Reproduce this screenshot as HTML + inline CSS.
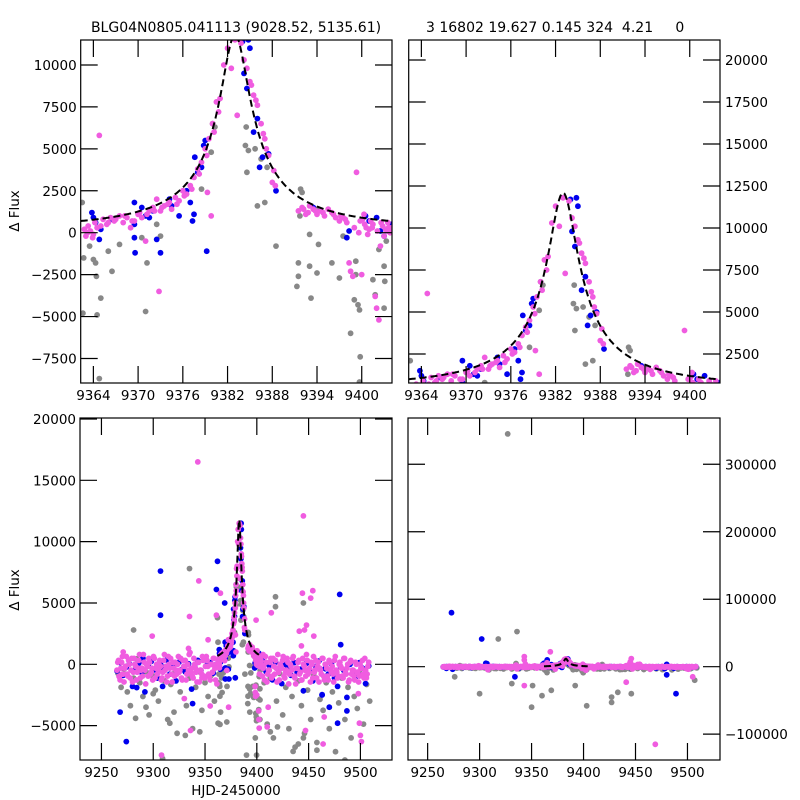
<!DOCTYPE html>
<html><head><meta charset="utf-8"><style>
body{margin:0;background:#fff}
svg{display:block;font-family:"DejaVu Sans","Liberation Sans",sans-serif}
</style></head><body>
<svg id="fig" width="800" height="800" viewBox="0 0 800 800"></svg>
<script>
// ---- data (flux values) ----
const tlPink = [[9362.8,200],[9363,-200],[9363.3,400],[9363.6,100],[9363.9,-300],[9364.2,600],[9364.5,300],[9364.8,5800],[9365.3,800],[9365.8,500],[9366.3,900],[9366.8,700],[9367.5,1000],[9368,600],[9368.5,900],[9369,300],[9369.5,700],[9370,1100],[9370.5,900],[9371,-500],[9371.5,1300],[9372,1500],[9372.5,2000],[9372.8,-3500],[9373,1300],[9373.5,1600],[9374,1700],[9374.5,1400],[9375,2100],[9375.5,1900],[9376,2500],[9376.5,2300],[9377,2800],[9377.5,3300],[9378,3800],[9378.5,4200],[9379,5000],[9379.3,2400],[9379.5,5600],[9379.8,1000],[9380,6500],[9380.5,7800],[9381,8000],[9381.5,10000],[9382,11000],[9382.5,9800],[9383,11500],[9383.3,7000],[9383.8,11300],[9384.2,10300],[9384.6,9800],[9385,9000],[9385.5,8200],[9386,7600],[9386.5,6500],[9387,5600],[9387.5,4600],[9388,3000],[9388.2,3700],[9388.4,2800],[9391.5,1300],[9392,1500],[9392.5,1100],[9393,1600],[9393.5,1400],[9394,1100],[9394.5,1300],[9395,1000],[9395.5,1400],[9396,1200],[9396.5,900],[9397,700],[9397.2,1000],[9397.5,900],[9398,600],[9398.3,-1800],[9398.5,-2300],[9398.8,-2600],[9399,300],[9399.3,3600],[9399.6,0],[9399.8,700],[9400,-2500],[9400.1,800],[9400.3,1100],[9400.6,300],[9400.8,-100],[9401,200],[9401.2,700],[9401.5,500],[9401.8,-3800],[9402,-4500],[9402.1,100],[9402.3,-5200],[9402.5,-800],[9402.8,400],[9403,-200],[9403.2,200],[9403.5,600],[9403.6,300],[9403.8,0],[9404,300],[9363.2,0],[9364,-100],[9365,400],[9366,600],[9367,800],[9368.2,1000],[9369.2,700],[9370.2,1200],[9371.2,1100],[9372.2,1300],[9373.2,1500],[9374.2,1800],[9375.2,1700],[9376.2,2200],[9377.2,2600],[9378.2,3500],[9379.2,4600],[9380.2,6000],[9380.8,7200],[9385.2,8800],[9385.8,7900],[9386.8,5900],[9387.2,5000],[9392.2,1400],[9392.8,1200],[9393.8,1300],[9394.8,1200],[9396.2,1100],[9397.8,800],[9400.4,500],[9401.4,300],[9402.6,600],[9403.4,100]];
const tlGray = [[9362.5,1800],[9362.7,-1500],[9362.6,-4800],[9363.5,-800],[9364,-1600],[9364.3,-1800],[9364.4,-2600],[9364.5,-4900],[9364.8,-8700],[9365,-3900],[9366,-1100],[9366.5,-2300],[9367.5,-700],[9370.5,-300],[9371,-4700],[9371.2,-1800],[9372.5,500],[9373,-200],[9378.5,2600],[9379.8,4800],[9380,6500],[9380.3,6300],[9384.5,6300],[9384.4,5200],[9384.8,4900],[9384.6,3600],[9385.7,5000],[9386.5,4400],[9387,1800],[9387.3,3900],[9386,1600],[9388.5,-800],[9391.5,-1800],[9391.5,-2600],[9391.3,-3200],[9391.7,1000],[9391.8,2600],[9392,2400],[9393,-100],[9393,-2000],[9393.2,-3900],[9394,-2400],[9394.2,-700],[9394,1400],[9396,-1800],[9397,-2700],[9397.5,-200],[9398.5,-6000],[9399.2,-2500],[9399.2,-1700],[9399,-4000],[9399.5,-4300],[9399.7,-4600],[9399.8,-7400],[9399.7,-8900],[9401.5,-2800],[9401.8,-3700],[9402.3,-1000],[9403,-2000],[9403.1,-2900],[9403,-4500],[9403.3,-500]];
const tlBlue = [[9363.8,1200],[9364,900],[9364.3,600],[9364.8,-400],[9365,200],[9366.5,800],[9369.5,1800],[9369.5,500],[9369.5,-300],[9369.6,-1200],[9370.5,1500],[9371,1000],[9371.5,900],[9372,1300],[9372.5,-400],[9373,-1200],[9374.2,2000],[9374.5,1600],[9375.5,1000],[9376.5,2500],[9377,1800],[9377.3,700],[9377.5,1100],[9377.6,4500],[9378,3600],[9378.5,3900],[9378.8,5200],[9379,5500],[9379.2,-1100],[9384,11400],[9384.8,11500],[9385,11000],[9384.2,9500],[9384.6,8600],[9385.5,6000],[9386,6800],[9386.3,3900],[9386.7,4500],[9387.5,4700],[9388.5,2500],[9393.5,1500],[9398,-300],[9398.3,100],[9400.5,1000],[9401,700],[9402,900],[9402.5,100],[9403,-200],[9403.5,200],[9404,500]];
const trOffset = 300;
// band values (hundreds of flux) on regular epoch grids
const bandPink = [-3,2,-8,1,-5,-2,4,-6,0,-3,-9,3,-1,-4,2,-7,-2,5,-3,0,-6,1,-4,-8,3,-2,-5,0,-1,-7,2,-3,-9,4,-2,-5,1,-6,-3,0,-4,3,-8,-1,2,-5,-3,6,-2,-7,0,-4,1,-9,-3,4,-6,-1,2,-5,-8,0,3,-2,0,0,0,0,0,0,0,0,0,0,0,0,0,0,0,0,0,0,0,0,0,0,0,0,0,0,0,0,-4,5,-2,-8,1,-5,-3,3,-6,-1,2,-9,-4,0,-2,4,-7,-3,1,-5,-1,3,-6,-10,-2,2,-4,-8,0,-3,5,-5,-2,1,-7,-4,2,-1,-9,-3,3,-6,0,-2,-8,1,-4,-5,2,-3,-7,0,-1,-6,3,-4,-2,-9,1,-5,-3,-8,0,-4,-6,-2,2,-7,-3,-5,1];
const bandPink2 = [1,-6,-2,4,-9,-1,-5,2,-7,3,-4,0,-8,-2,5,-3,-6,1,-10,-1,3,-5,-2,4,-7,0,-3,2,-8,-4,5,-1,-6,0,3,-9,-2,1,-5,4,-3,-7,2,-1,-8,0,5,-4,-6,3,-2,-9,1,-3,-5,2,-7,4,-1,-6,0,-4,3,-8,0,0,0,0,0,0,0,0,0,0,0,0,0,0,0,0,0,0,0,0,0,0,0,0,0,0,0,0,2,-6,-1,4,-9,-3,1,-7,3,-5,-2,5,-8,-1,2,-6,-4,3,-10,0,-3,4,-7,-2,1,-5,-8,3,-1,-6,2,-4,-9,0,4,-3,-7,1,-2,-5,3,-8,0,-6,2,-3,-1,-9,4,-4,-6,1,-2,-7,3,-5,0,-8,2,-3,-6,1,-4,-9,0,-2,-5,3,-7,-1];
const bandBlue = [-12,3,-20,-5,1,-40,-8,2,-15,-50,-3,5,-10,-25,0,-6,8,-18,-2,-30,4,-9,-14,1,-45,-4,7,-11,-22,-1,3,-16,0,0,0,0,0,0,0,0,0,0,0,0,0,0,-7,5,-13,-2,-28,4,-10,-35,0,-6,-20,3,-15,-9,-48,2,-12,-30,-4,6,-55,-8,-18,1,-25,-40,-5,-11,-60,0,-14,-22,3,-7,-35,-3];
const bandGray = [-10,-25,-5,-30,-45,-15,6,-20,-35,-8,-55,-12,-28,-40,-3,-18,-60,-22,-10,-75,-30,-5,-45,-15,-70,-25,-8,-50,-20,-35,-12,-40,0,0,0,0,0,0,0,0,0,0,0,0,0,0,-30,-20,-65,-15,-80,-40,-10,-55,-25,-70,-35,-90,-18,-45,-75,-28,-60,-12,-85,-38,-50,-20,-70,-30,-95,-42,-15,-60,-25,-80,-35,-48,-10,-65,-22,-40];
const pinkUnit = 160, blueUnit = 45, grayUnit = 75;
const pinkOut = [[9270,-800],[9271,1000],[9299,2300],[9308,-7400],[9334,1300],[9335,3900],[9336,-5400],[9343,16500],[9344,6800],[9347,-1100],[9353,2000],[9355,-3400],[9361,4000],[9361.5,-1600],[9406,800],[9410,-5100],[9411,-3500],[9414,4200],[9441,2700],[9443,1500],[9444,5800],[9445,12100],[9446,2800],[9447,-5400],[9448,3200],[9452,5400],[9454,6000],[9455,2300],[9464,-6500],[9465,-4300],[9498,-2400],[9499,-4800],[9500,-5800],[9501,-6300],[9267,-1000],[9330,-2800]];
const blueOut = [[9307,7600],[9307,4000],[9362,8400],[9361,6100],[9369,5000],[9480,5700],[9481,1600],[9274,-6300],[9268,-3900],[9284,-1900],[9309,-1800],[9338,-3200],[9470,-3500],[9478,-4800],[9487,-3800],[9463,-2500],[9500,-900],[9290,500]];
const grayOut = [[9335,7800],[9362,3800],[9281,2800],[9418,5500],[9418,4700],[9445,5000],[9345,-5500],[9309,-7700],[9283,-4400],[9293,-3500],[9316,-4800],[9331,-5800],[9390,-7400],[9420,-5100],[9440,-6500],[9445,-6000],[9458,-7000],[9485,-7800],[9435,-7100],[9413,-5500],[9300,-2400],[9320,-3900]];
const brScale = 0.6;
const brPink = [[9343,15000],[9368,22000],[9343,-28000],[9441,-23000],[9446,12000],[9469,-115000],[9505,-15000]];
const brBlue = [[9273,80000],[9302,41000],[9365,10000],[9334,-15000],[9489,-40000],[9480,-12000],[9306,5000]];
const brGray = [[9327,345000],[9318,41000],[9336,52000],[9300,-40000],[9350,-60000],[9331,-25000],[9351,-28000],[9360,-43000],[9369,-35000],[9392,-28000],[9403,-58000],[9427,-45000],[9427,-53000],[9433,-38000],[9446,-40000],[9507,-20000],[9276,-15000]];
const model = {t0:9383, u0:0.1, tE:20, fs:1272, base:300};
const ticksTopX = [9364,9370,9376,9382,9388,9394,9400];
const ticksBotX = [9250,9300,9350,9400,9450,9500];
const ticksTL = [-7500,-5000,-2500,0,2500,5000,7500,10000];
const ticksTR = [2500,5000,7500,10000,12500,15000,17500,20000];
const ticksBL = [-5000,0,5000,10000,15000,20000];
const ticksBR = [-100000,0,100000,200000,300000];

const NS="http://www.w3.org/2000/svg";
const svg=document.getElementById('fig');
function mk(tag,attrs,parent){const e=document.createElementNS(NS,tag);for(const k in attrs)e.setAttribute(k,attrs[k]);(parent||svg).appendChild(e);return e;}
function mag(t){const u=Math.sqrt(model.u0*model.u0+Math.pow((t-model.t0)/model.tE,2));return (u*u+2)/(u*Math.sqrt(u*u+4));}
function modelFlux(t,off){return model.base+off+model.fs*(mag(t)-1);}

const P={
 tl:{x0:80.7,x1:392,y0:40,y1:383,xmin:9362.3,xmax:9404.06,ymin:-8961,ymax:11489,yt:ticksTL,xt:ticksTopX,side:'left'},
 tr:{x0:408.7,x1:720,y0:40,y1:383,xmin:9362.3,xmax:9404.06,ymin:774,ymax:21190,yt:ticksTR,xt:ticksTopX,side:'right'},
 bl:{x0:80,x1:392,y0:418,y1:760,xmin:9229.3,xmax:9530.5,ymin:-7802,ymax:20081,yt:ticksBL,xt:ticksBotX,side:'left'},
 br:{x0:408,x1:720,y0:418,y1:760,xmin:9231.1,xmax:9531.3,ymin:-138300,ymax:368600,yt:ticksBR,xt:ticksBotX,side:'right'}
};
function sx(p,v){return p.x0+(v-p.xmin)/(p.xmax-p.xmin)*(p.x1-p.x0);}
function sy(p,v){return p.y1-(v-p.ymin)/(p.ymax-p.ymin)*(p.y1-p.y0);}

const defs=mk('defs',{});
for(const k in P){const p=P[k];const cp=mk('clipPath',{id:'clip-'+k},defs);mk('rect',{x:p.x0,y:p.y0,width:p.x1-p.x0,height:p.y1-p.y0},cp);}

const COL={gray:'#888888',blue:'#0000ee',pink:'#f05ce0'};
function dots(p,g,pts,color,off,scale,name){
 const grp=mk('g',{fill:color},g);
 
 
 pts.forEach(d=>{mk('circle',{cx:sx(p,d[0]).toFixed(1),cy:sy(p,(d[1]+off)*scale).toFixed(1),r:2.9},grp);});
}
function bandPts(vals,start,step,unit){const out=[];vals.forEach((v,i)=>{const t=start+i*step;if(t>9361&&t<9405)return;out.push([t,v*unit]);});return out;}

function drawPanel(k){
 const p=P[k];
 const g=mk('g',{'clip-path':'url(#clip-'+k+')'});
 
 
 const top=(k==='tl'||k==='tr');
 const off=(k==='tr')?trOffset:0;
 if(top){
  dots(p,g,tlGray,COL.gray,off,1,'gray-points');
  dots(p,g,tlBlue,COL.blue,off,1,'blue-points');
  dots(p,g,tlPink,COL.pink,off,1,'pink-points');
 } else {
  const sc=(k==='br')?brScale:1;
  dots(p,g,bandPts(bandGray,9266,3,grayUnit),COL.gray,0,sc,'gray-band');
  dots(p,g,grayOut,COL.gray,0,sc,'gray-outliers');
  dots(p,g,tlGray,COL.gray,0,1,'gray-peak-points');
  if(k==='br') dots(p,g,brGray,COL.gray,0,1,'gray-outliers-br');
  dots(p,g,bandPts(bandBlue,9265,3,blueUnit),COL.blue,0,sc,'blue-band');
  dots(p,g,blueOut,COL.blue,0,sc,'blue-outliers');
  dots(p,g,tlBlue,COL.blue,0,1,'blue-peak-points');
  if(k==='br') dots(p,g,brBlue,COL.blue,0,1,'blue-outliers-br');
  dots(p,g,bandPts(bandPink,9265,1.5,pinkUnit),COL.pink,0,sc,'pink-band');
  dots(p,g,bandPts(bandPink2,9265.75,1.5,pinkUnit),COL.pink,0,sc,'pink-band-2');
  dots(p,g,pinkOut,COL.pink,0,sc,'pink-outliers');
  dots(p,g,tlPink,COL.pink,0,1,'pink-peak-points');
  if(k==='br') dots(p,g,brPink,COL.pink,0,1,'pink-outliers-br');
 }
 let d='';const a=top?p.xmin:9362,b=top?p.xmax:9404;
 for(let i=0;i<=300;i++){const t=a+(b-a)*i/300;d+=(i?'L':'M')+sx(p,t).toFixed(1)+','+sy(p,modelFlux(t,k==='tr'?trOffset:0)).toFixed(1);}
 const m=mk('path',{d:d,fill:'none',stroke:'#000',"stroke-width":2,"stroke-dasharray":"7,4"},g);
 
 
 const fr=mk('rect',{x:p.x0,y:p.y0,width:p.x1-p.x0,height:p.y1-p.y0,fill:'none',stroke:'#000',"stroke-width":1.2});
 
 
 const TL=17;
 const ax=mk('g',{stroke:'#000',"stroke-width":1.2});
 
 
 const lab=mk('g',{"font-size":"13.5",fill:'#000'});
 
 
 p.xt.forEach(v=>{const x=sx(p,v);mk('line',{x1:x,y1:p.y1,x2:x,y2:p.y1-TL},ax);mk('line',{x1:x,y1:p.y0,x2:x,y2:p.y0+TL},ax);
  const t=mk('text',{x:x,y:p.y1+17,"text-anchor":"middle"},lab);t.textContent=v;});
 p.yt.forEach(v=>{const y=sy(p,v);mk('line',{x1:p.x0,y1:y,x2:p.x0+TL,y2:y},ax);mk('line',{x1:p.x1,y1:y,x2:p.x1-TL,y2:y},ax);
  const s=String(v).replace('-','\u2212');
  const t=p.side==='left'?mk('text',{x:p.x0-4,y:y+5,"text-anchor":"end"},lab):mk('text',{x:p.x1+5,y:y+5,"text-anchor":"start"},lab);t.textContent=s;});
}
['tl','tr','bl','br'].forEach(drawPanel);

function txt(x,y,s,name,extra){const t=mk('text',Object.assign({x:x,y:y,"font-size":"14","text-anchor":"middle",fill:'#000'},extra||{}));t.textContent=s;
 
 
 return t;}
txt(236,32,'BLG04N0805.041113 (9028.52, 5135.61)','title-left');
const t2=txt(426,32,'3 16802 19.627 0.145 324  4.21     0','title-right',{"text-anchor":"start"});t2.setAttribute('xml:space','preserve');t2.style.whiteSpace='pre';
txt(236,795,'HJD-2450000','x-axis-title',{"font-size":"13.5"});
txt(19,211,'\u0394 Flux','y-axis-title-top',{"font-size":"13.5",transform:'rotate(-90 19 211)'});
txt(19,590,'\u0394 Flux','y-axis-title-bottom',{"font-size":"13.5",transform:'rotate(-90 19 590)'});
</script>
</body></html>
